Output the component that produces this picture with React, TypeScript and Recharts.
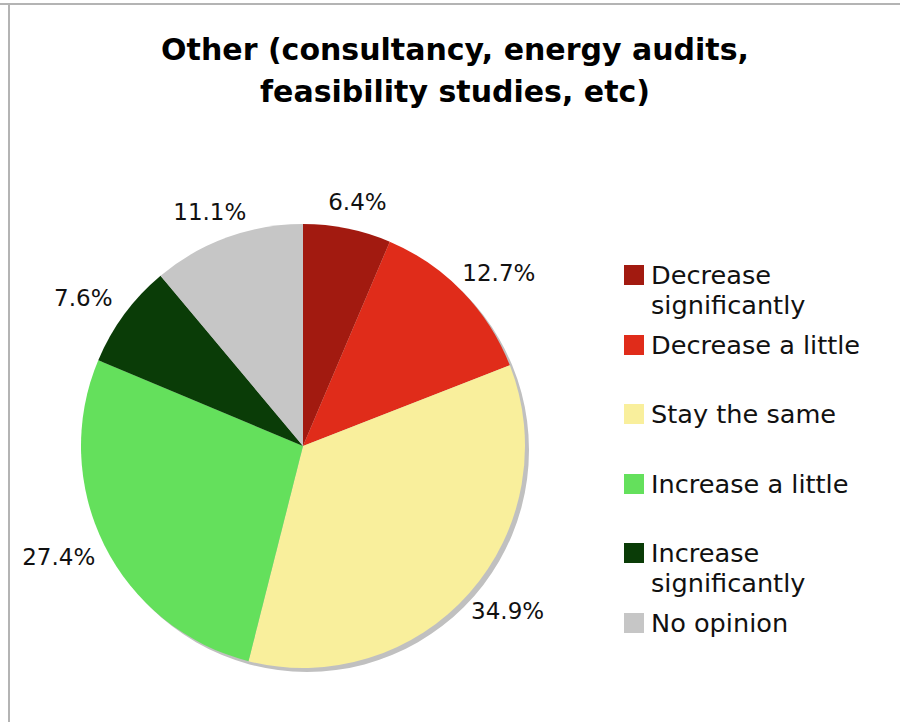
import React from 'react';
import { PieChart, Pie, Cell, Legend } from 'recharts';

const categories = [
  'Decrease significantly',
  'Decrease a little',
  'Stay the same',
  'Increase a little',
  'Increase significantly',
  'No opinion',
];
const shares = [6.4, 12.7, 34.9, 27.4, 7.6, 11.1];
const colors = ['#a21a10', '#e02c1a', '#f9ef9c', '#64e05c', '#0a3c07', '#c6c6c6'];
const shadowData = [{ name: 'shadow', value: 1 }];

const data = categories.map((name, i) => ({ name, value: shares[i] }));

const FONT = '"DejaVu Sans", Verdana, sans-serif';
const RADIAN = Math.PI / 180;

const renderLabel = (props: any) => {
  const { cx, cy, midAngle, outerRadius, value } = props;
  const cos = Math.cos(-midAngle * RADIAN);
  const sin = Math.sin(-midAngle * RADIAN);
  const r = outerRadius + 13;
  const x = cx + r * cos + cos * 38;
  const y = cy + r * sin + sin * 14;
  return (
    <text
      x={x}
      y={y}
      textAnchor="middle"
      dominantBaseline="central"
      fontFamily={FONT}
      fontSize={23}
      fill="#111"
    >
      {`${value.toFixed(1)}%`}
    </text>
  );
};

const renderLegend = () => (
  <div style={{ fontFamily: FONT, fontSize: 25.6, color: '#111' }}>
    {categories.map((name, i) => (
      <div key={name} style={{ height: 69.5, display: 'flex', alignItems: 'flex-start' }}>
        <div
          style={{
            width: 20,
            height: 20,
            marginTop: 5,
            marginRight: 7,
            background: colors[i],
            flexShrink: 0,
          }}
        />
        <div style={{ width: 228, lineHeight: '30px' }}>{name}</div>
      </div>
    ))}
  </div>
);

export default function App() {
  return (
    <div
      style={{
        position: 'absolute',
        left: 0,
        top: 0,
        width: 900,
        height: 722,
        background: '#fff',
      }}
    >
      <div style={{ position: 'absolute', left: 0, top: 3, width: 900, borderTop: '2px solid #b4b4b4' }} />
      <div style={{ position: 'absolute', left: 8, top: 3, height: 719, borderLeft: '2px solid #b4b4b4' }} />
      <div
        style={{
          position: 'absolute',
          left: 0,
          top: 29,
          width: 910,
          textAlign: 'center',
          fontFamily: FONT,
          fontWeight: 'bold',
          fontSize: 30,
          lineHeight: '42px',
          color: '#000',
        }}
      >
        Other (consultancy, energy audits,
        <br />
        feasibility studies, etc)
      </div>
      <PieChart width={900} height={722} margin={{ top: 0, right: 0, bottom: 0, left: 0 }}>
        <Pie
          data={shadowData}
          dataKey="value"
          cx={307}
          cy={450}
          outerRadius={222}
          startAngle={90}
          endAngle={-270}
          fill="#c0c0c0"
          stroke="none"
          isAnimationActive={false}
        />
        <Pie
          data={data}
          dataKey="value"
          cx={303}
          cy={446}
          outerRadius={222}
          startAngle={90}
          endAngle={-270}
          stroke="none"
          label={renderLabel}
          labelLine={false}
          isAnimationActive={false}
        >
          {data.map((d, i) => (
            <Cell key={d.name} fill={colors[i]} />
          ))}
        </Pie>
        <Legend
          layout="vertical"
          content={renderLegend}
          wrapperStyle={{ left: 624, top: 260, width: 260 }}
        />
      </PieChart>
    </div>
  );
}
